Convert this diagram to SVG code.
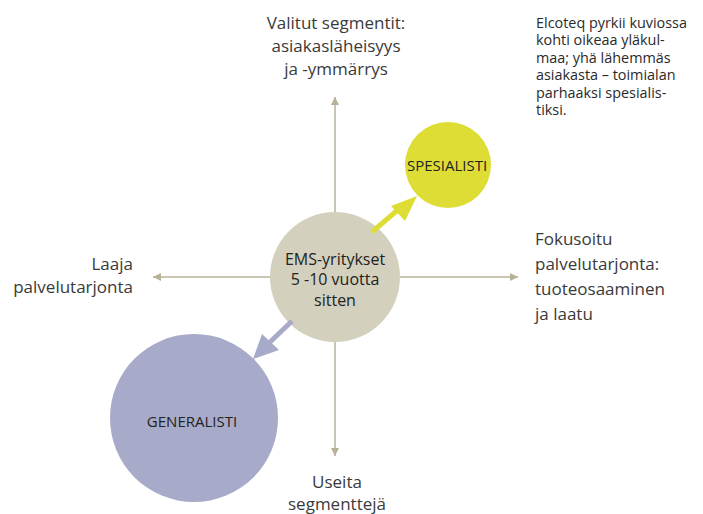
<svg xmlns="http://www.w3.org/2000/svg" width="703" height="514" viewBox="0 0 703 514">
<style>
.lbl{font-family:"Open Sans","Noto Sans",sans-serif;font-size:17px;fill:#3a3a3a}
.note{font-family:"Open Sans","Noto Sans",sans-serif;font-size:14.4px;fill:#2a2a2a}
.node{font-family:"Open Sans","Noto Sans",sans-serif;fill:#222}
.axis{stroke:#b8b198;stroke-width:1.5;fill:none}
</style>
<defs>
<marker id="ah" viewBox="0 0 10 10" refX="10" refY="5" markerWidth="11" markerHeight="8" markerUnits="userSpaceOnUse" orient="auto">
<path d="M0,0 L10,5 L0,10 Z" fill="#b8b198"/>
</marker>
</defs>
<rect width="703" height="514" fill="#fff"/>
<g id="connectors">
<line class="axis" x1="335" y1="277" x2="335" y2="97" marker-end="url(#ah)"/>
<line class="axis" x1="335" y1="277" x2="335" y2="456" marker-end="url(#ah)"/>
<line class="axis" x1="335" y1="277" x2="153" y2="277" marker-end="url(#ah)"/>
<line class="axis" x1="335" y1="277" x2="518" y2="277" marker-end="url(#ah)"/>
</g>
<g id="generalisti">
<circle cx="194" cy="418" r="84" fill="#a8aac9"/>
<text class="node" x="192" y="427" font-size="15" text-anchor="middle">GENERALISTI</text>
</g>
<g id="spesialisti">
<circle cx="448" cy="165" r="43" fill="#dedd35"/>
<text class="node" x="447" y="171" font-size="15" text-anchor="middle">SPESIALISTI</text>
</g>
<g id="ems">
<circle cx="335" cy="277" r="65" fill="#d3d0bd"/>
<text class="node" font-size="16" font-weight="500" text-anchor="middle"><tspan x="335" y="265">EMS-yritykset</tspan><tspan x="335" y="285">5 -10 vuotta</tspan><tspan x="335" y="306">sitten</tspan></text>
</g>
<g id="arrows">
<line x1="372" y1="232" x2="400" y2="208" stroke="#dedd35" stroke-width="5"/>
<path d="M417,196 L391,206 L405,221 Z" fill="#dedd35"/>
<line x1="292" y1="321" x2="268" y2="344" stroke="#a8aac9" stroke-width="5"/>
<path d="M253,359 L262,334 L279,350 Z" fill="#a8aac9"/>
</g>
<g id="labels">
<text class="lbl" text-anchor="middle"><tspan x="336" y="29">Valitut segmentit:</tspan><tspan x="336" y="52">asiakasläheisyys</tspan><tspan x="336" y="75">ja -ymmärrys</tspan></text>
<text class="lbl" text-anchor="end"><tspan x="133" y="270">Laaja</tspan><tspan x="133" y="293">palvelutarjonta</tspan></text>
<text class="lbl"><tspan x="535" y="245">Fokusoitu</tspan><tspan x="535" y="270">palvelutarjonta:</tspan><tspan x="535" y="295">tuoteosaaminen</tspan><tspan x="535" y="320">ja laatu</tspan></text>
<text class="lbl" text-anchor="middle"><tspan x="337" y="488">Useita</tspan><tspan x="337" y="510">segmenttejä</tspan></text>
<text class="note"><tspan x="536" y="28">Elcoteq pyrkii kuviossa</tspan><tspan x="536" y="45.4">kohti oikeaa yläkul-</tspan><tspan x="536" y="62.8">maa; yhä lähemmäs</tspan><tspan x="536" y="80.2">asiakasta – toimialan</tspan><tspan x="536" y="97.6">parhaaksi spesialis-</tspan><tspan x="536" y="115">tiksi.</tspan></text>
</g>
</svg>
